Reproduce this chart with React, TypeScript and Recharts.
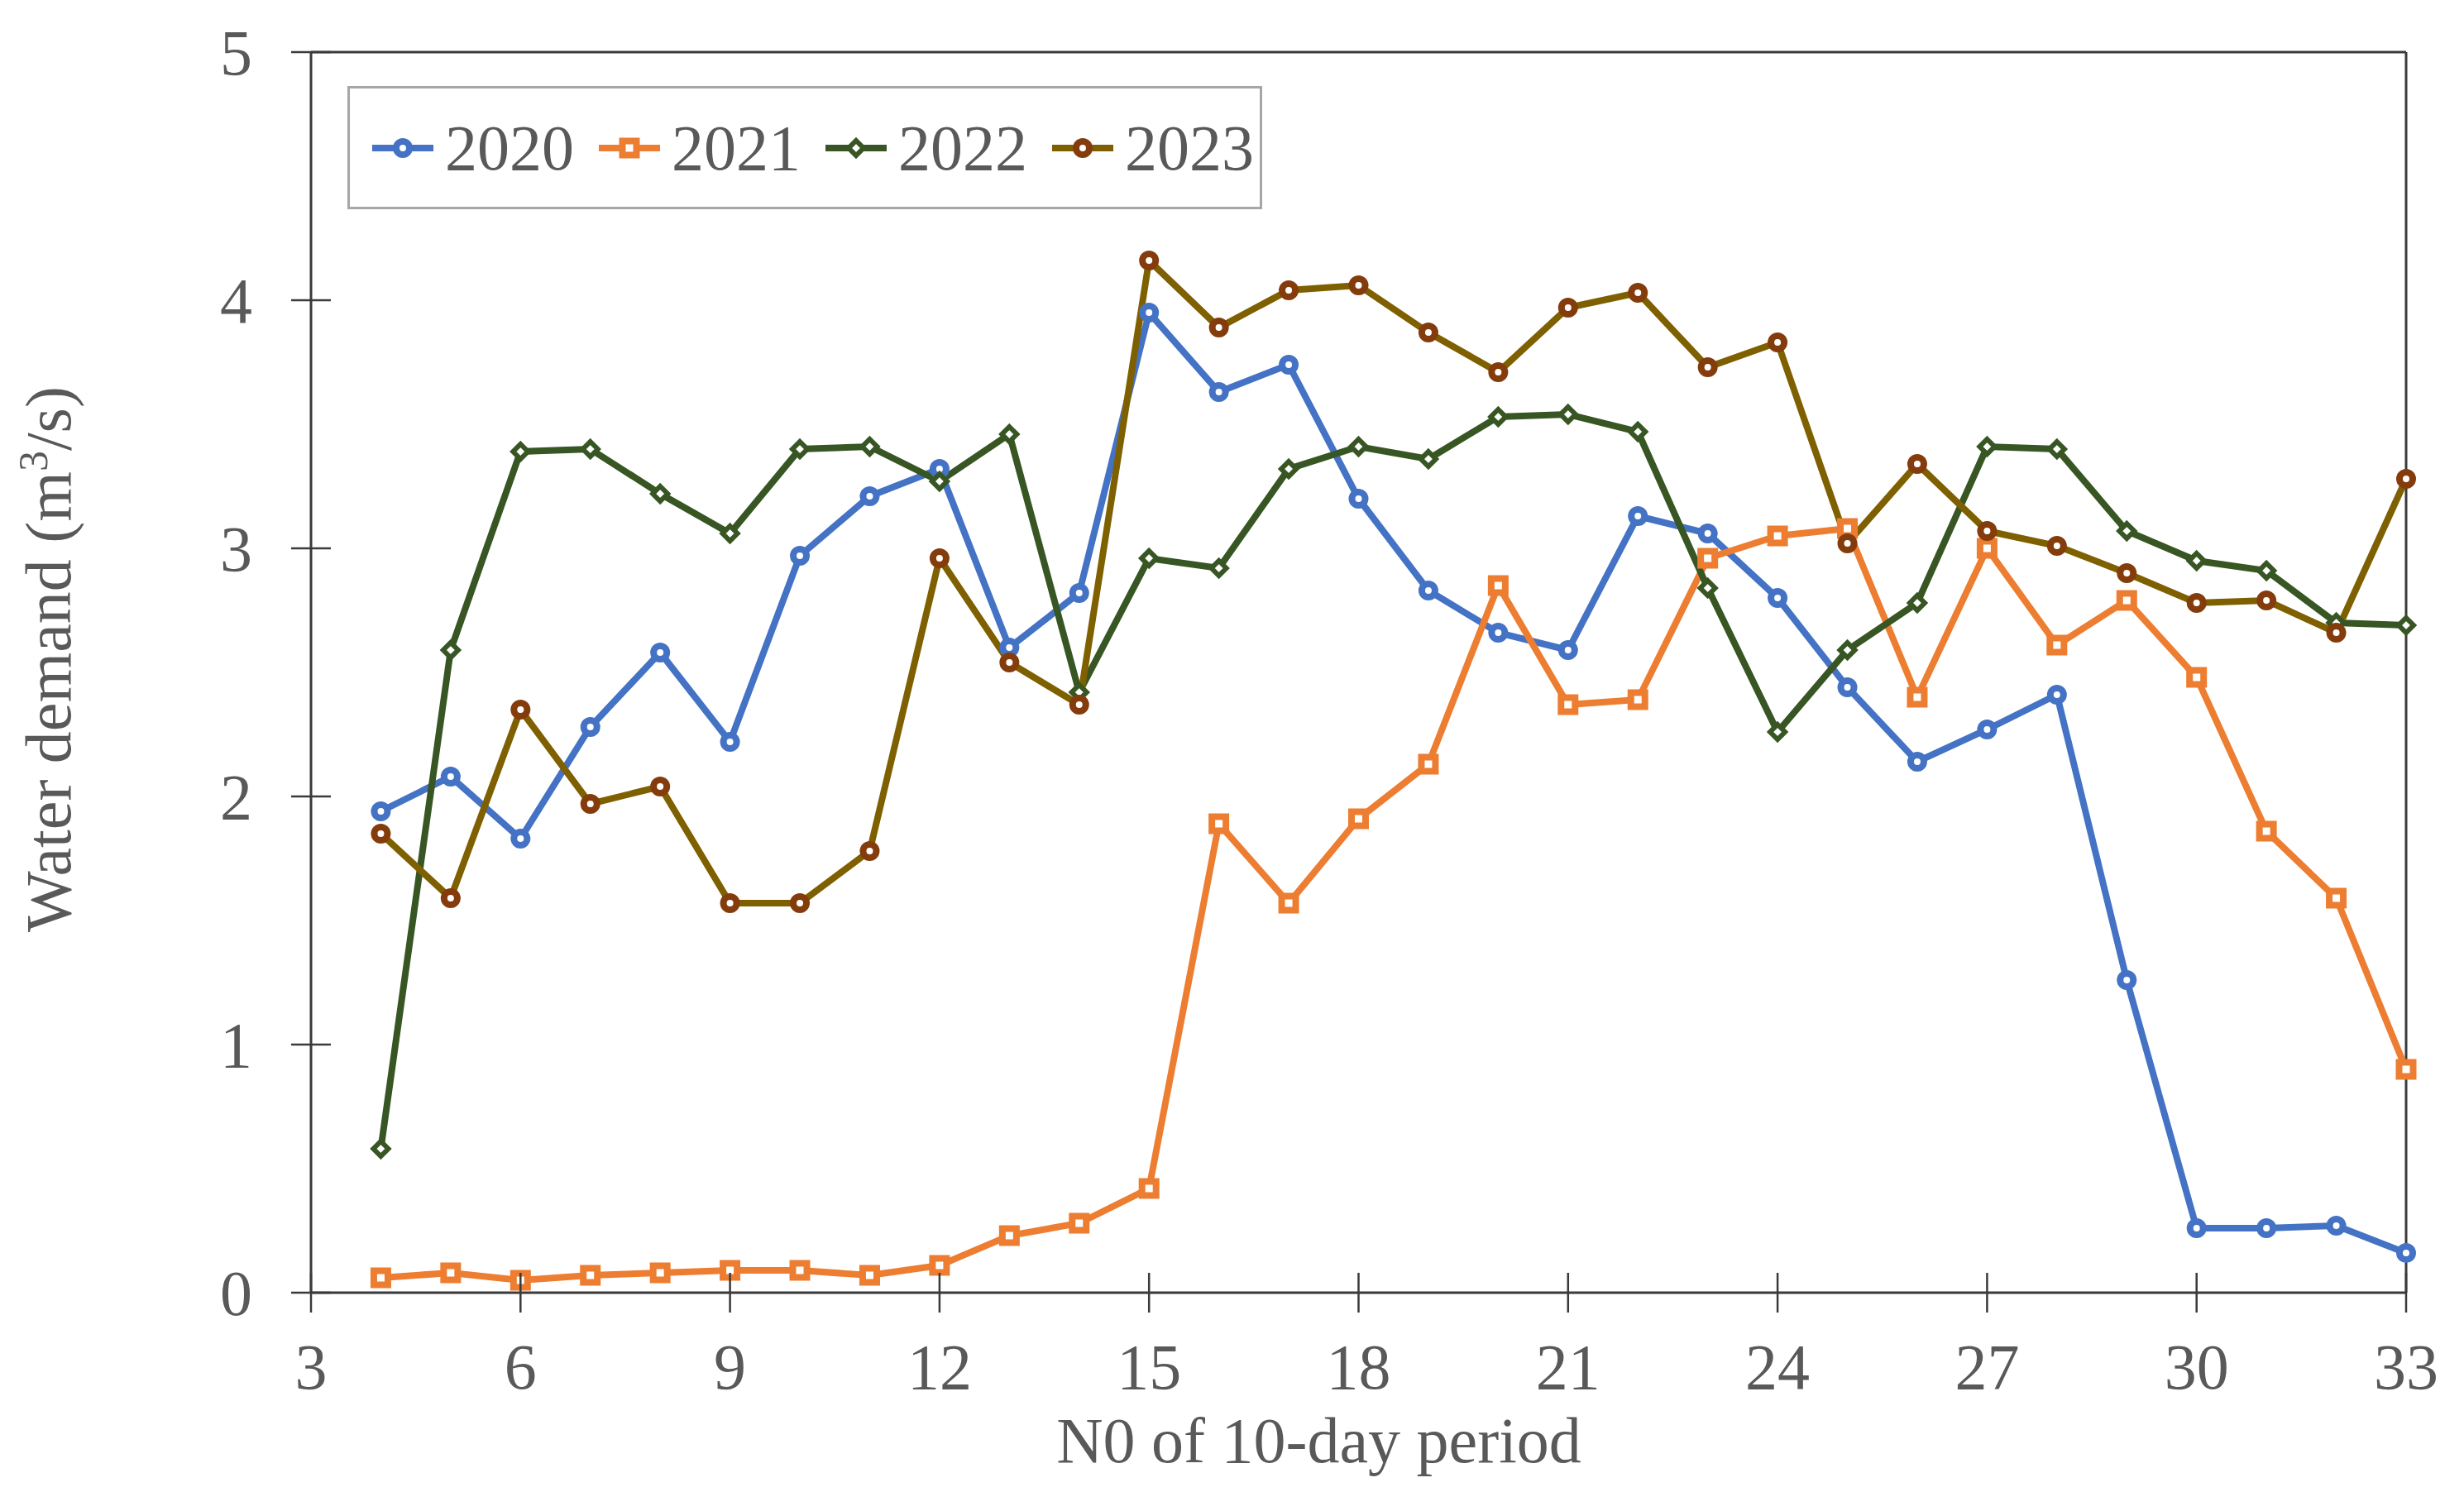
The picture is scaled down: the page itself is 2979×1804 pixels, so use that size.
import React from "react";
import { LineChart, Line, XAxis, YAxis, Legend, ReferenceLine } from "recharts";

const periods = [4,5,6,7,8,9,10,11,12,13,14,15,16,17,18,19,20,21,22,23,24,25,26,27,28,29,30,31,32,33];
const s2020 = [1.94,2.08,1.83,2.28,2.58,2.22,2.97,3.21,3.32,2.60,2.82,3.95,3.63,3.74,3.20,2.83,2.66,2.59,3.13,3.06,2.80,2.44,2.14,2.27,2.41,1.26,0.26,0.26,0.27,0.16];
const s2021 = [0.06,0.08,0.05,0.07,0.08,0.09,0.09,0.07,0.11,0.23,0.28,0.42,1.89,1.57,1.91,2.13,2.85,2.37,2.39,2.96,3.05,3.08,2.40,3.00,2.61,2.79,2.48,1.86,1.59,0.90];
const s2022 = [0.58,2.59,3.39,3.40,3.22,3.06,3.40,3.41,3.27,3.46,2.42,2.96,2.92,3.32,3.41,3.36,3.53,3.54,3.47,2.84,2.26,2.59,2.78,3.41,3.40,3.07,2.95,2.91,2.70,2.69];
const s2023 = [1.85,1.59,2.35,1.97,2.04,1.57,1.57,1.78,2.96,2.54,2.37,4.16,3.89,4.04,4.06,3.87,3.71,3.97,4.03,3.73,3.83,3.02,3.34,3.07,3.01,2.90,2.78,2.79,2.66,3.28];

const xTicks = [3,6,9,12,15,18,21,24,27,30,33];
const yTicks = [0,1,2,3,4,5];
const seriesNames = ["2020","2021","2022","2023"];

const data = periods.map((p, i) => ({
  period: p,
  "2020": s2020[i],
  "2021": s2021[i],
  "2022": s2022[i],
  "2023": s2023[i],
}));

const FONT = '"Liberation Serif", "Times New Roman", serif';
const TEXT = "#595959";
const AXIS = "#3a3a3a";
const BLUE = "#4472C4";
const ORANGE = "#ED7D31";
const GREEN = "#375623";
const OLIVE = "#7F6000";
const BROWN = "#843C0C";
const FS = 78;

const circleDot = (color: string) => (props: any) => {
  const { cx, cy, index } = props;
  if (cx == null || cy == null) return <g key={index} />;
  return <circle key={index} cx={cx} cy={cy} r={8} fill="#fff" stroke={color} strokeWidth={8} />;
};
const squareDot = (color: string) => (props: any) => {
  const { cx, cy, index } = props;
  if (cx == null || cy == null) return <g key={index} />;
  return <rect key={index} x={cx - 8.5} y={cy - 8.5} width={17} height={17} fill="#fff" stroke={color} strokeWidth={8} />;
};
const diamondDot = (color: string) => (props: any) => {
  const { cx, cy, index } = props;
  if (cx == null || cy == null) return <g key={index} />;
  const d = 9;
  return <polygon key={index} points={`${cx},${cy - d} ${cx + d},${cy} ${cx},${cy + d} ${cx - d},${cy}`} fill="#fff" stroke={color} strokeWidth={6} />;
};

const XTick = (props: any) => {
  const { x, y, payload } = props;
  return (
    <g>
      <line x1={x} x2={x} y1={y - 24} y2={y + 24} stroke={AXIS} strokeWidth={2.5} />
      <text x={x} y={y + 116} textAnchor="middle" fill={TEXT} fontSize={FS} fontFamily={FONT}>{payload.value}</text>
    </g>
  );
};
const YTick = (props: any) => {
  const { x, y, payload } = props;
  return (
    <g>
      <line x1={x - 24} x2={x + 24} y1={y} y2={y} stroke={AXIS} strokeWidth={2.5} />
      <text x={x - 71} y={y + 27} textAnchor="end" fill={TEXT} fontSize={FS} fontFamily={FONT}>{payload.value}</text>
    </g>
  );
};

const legendIcons: Record<string, { line: string; marker: string; shape: string }> = {
  "2020": { line: BLUE, marker: BLUE, shape: "circle" },
  "2021": { line: ORANGE, marker: ORANGE, shape: "square" },
  "2022": { line: GREEN, marker: GREEN, shape: "diamond" },
  "2023": { line: OLIVE, marker: BROWN, shape: "circle" },
};

const LegendBox = () => (
  <div
    style={{
      width: 1106,
      height: 149,
      boxSizing: "border-box",
      border: "3px solid #a6a6a6",
      display: "flex",
      alignItems: "center",
      paddingLeft: 25,
      background: "#fff",
    }}
  >
    {seriesNames.map((name) => {
      const ic = legendIcons[name];
      return (
        <div key={name} style={{ display: "flex", alignItems: "center", marginRight: 28 }}>
          <svg width={78} height={30} style={{ marginRight: 12 }}>
            <line x1={2} x2={76} y1={15} y2={15} stroke={ic.line} strokeWidth={8} />
            {ic.shape === "circle" && <circle cx={39} cy={15} r={8} fill="#fff" stroke={ic.marker} strokeWidth={8} />}
            {ic.shape === "square" && <rect x={30.5} y={6.5} width={17} height={17} fill="#fff" stroke={ic.marker} strokeWidth={8} />}
            {ic.shape === "diamond" && <polygon points="39,6 48,15 39,24 30,15" fill="#fff" stroke={ic.marker} strokeWidth={6} />}
          </svg>
          <span style={{ fontFamily: FONT, fontSize: FS, color: TEXT, lineHeight: 1 }}>{name}</span>
        </div>
      );
    })}
  </div>
);

const XTitle = (props: any) => {
  const vb = props.viewBox;
  return (
    <text x={vb.x + vb.width / 2 - 48} y={vb.y + 205} textAnchor="middle" fill={TEXT} fontSize={FS} fontFamily={FONT}>
      N0 of 10-day period
    </text>
  );
};
const YTitle = (props: any) => {
  const vb = props.viewBox;
  const cx = 85;
  const cy = vb.y + vb.height / 2 - 16;
  return (
    <text x={cx} y={cy} transform={`rotate(-90, ${cx}, ${cy})`} textAnchor="middle" fill={TEXT} fontSize={FS} fontFamily={FONT}>
      Water demand (m<tspan dy={-28} fontSize={50}>3</tspan><tspan dy={28}>/s)</tspan>
    </text>
  );
};

export default function App() {
  return (
    <div style={{ position: "absolute", left: 0, top: 0, width: 2979, height: 1804, background: "#fff" }}>
      <LineChart width={2979} height={1804} data={data} margin={{ top: 63, right: 70, bottom: 0, left: 0 }}>
        <XAxis
          dataKey="period"
          type="number"
          domain={[3, 33]}
          ticks={xTicks}
          height={241}
          tickSize={0}
          tickMargin={0}
          tickLine={false}
          tick={<XTick />}
          axisLine={{ stroke: AXIS, strokeWidth: 3 }}
          label={<XTitle />}
        />
        <YAxis
          type="number"
          domain={[0, 5]}
          ticks={yTicks}
          width={376}
          tickSize={0}
          tickMargin={0}
          tickLine={false}
          tick={<YTick />}
          axisLine={{ stroke: AXIS, strokeWidth: 3 }}
          label={<YTitle />}
        />
        <ReferenceLine y={5} stroke={AXIS} strokeWidth={3} />
        <ReferenceLine x={33} stroke={AXIS} strokeWidth={3} />
        <Legend
          verticalAlign="middle"
          layout="horizontal"
          content={() => <LegendBox />}
          wrapperStyle={{ left: 420, top: 104, width: 1106, height: 149 }}
        />
        <Line type="linear" dataKey="2020" stroke={BLUE} strokeWidth={8} dot={circleDot(BLUE)} isAnimationActive={false} />
        <Line type="linear" dataKey="2021" stroke={ORANGE} strokeWidth={8} dot={squareDot(ORANGE)} isAnimationActive={false} />
        <Line type="linear" dataKey="2022" stroke={GREEN} strokeWidth={8} dot={diamondDot(GREEN)} isAnimationActive={false} />
        <Line type="linear" dataKey="2023" stroke={OLIVE} strokeWidth={8} dot={circleDot(BROWN)} isAnimationActive={false} />
      </LineChart>
    </div>
  );
}
